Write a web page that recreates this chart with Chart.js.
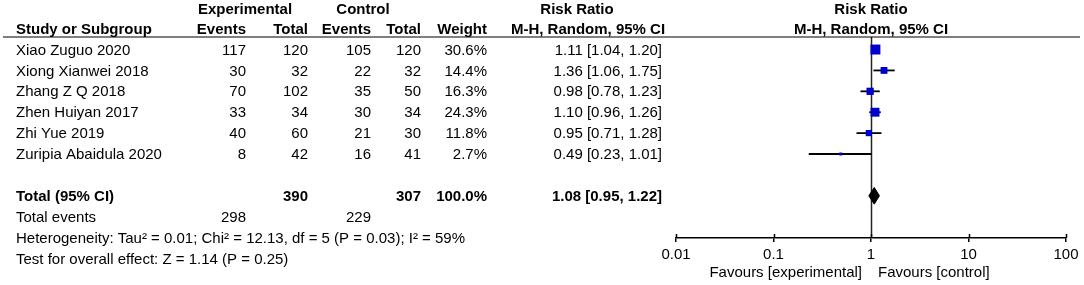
<!DOCTYPE html>
<html>
<head>
<meta charset="utf-8">
<script src="https://cdn.jsdelivr.net/npm/chart.js@4.4.1/dist/chart.umd.min.js"></script>
<style>
  html, body { margin: 0; padding: 0; background: #fff; }
  #wrap { width: 1084px; height: 285px; }
</style>
</head>
<body>
<div id="wrap"><canvas id="forestChart" width="1084" height="285"></canvas></div>
<script>
// study data
const studies = ['Xiao Zuguo 2020', 'Xiong Xianwei 2018', 'Zhang Z Q 2018', 'Zhen Huiyan 2017', 'Zhi Yue 2019', 'Zuripia Abaidula 2020']
const expEvents = [117, 30, 70, 33, 40, 8]
const expTotal = [120, 32, 102, 34, 60, 42]
const ctrlEvents = [105, 22, 35, 30, 21, 16]
const ctrlTotal = [120, 32, 50, 34, 30, 41]
const weights = [30.6, 14.4, 16.3, 24.3, 11.8, 2.7]
const riskRatio = [1.11, 1.36, 0.98, 1.10, 0.95, 0.49]
const ciLow = [1.04, 1.06, 0.78, 0.96, 0.71, 0.23]
const ciHigh = [1.20, 1.75, 1.23, 1.26, 1.28, 1.01]

// pooled result: [estimate, low, high]
const pooledRR = [1.08, 0.95, 1.22]
const pooledTotals = [390, 307]
const pooledEvents = [298, 229]
const pooledWeight = 100.0

const xTicks = [0.01, 0.1, 1, 10, 100]
const xTickLabels = ['0.01', '0.1', '1', '10', '100']

const heterogeneityText = 'Heterogeneity: Tau\u00b2 = 0.01; Chi\u00b2 = 12.13, df = 5 (P = 0.03); I\u00b2 = 59%'
const overallText = 'Test for overall effect: Z = 1.14 (P = 0.25)'

const FONT = '"Liberation Sans", Arial, sans-serif'
const totalRow = studies.length + 1

const fmtCI = (rr, lo, hi) => `${rr.toFixed(2)} [${lo.toFixed(2)}, ${hi.toFixed(2)}]`

const forestText = {
  id: 'forestText',
  beforeDatasetsDraw(chart) {
    const { ctx, chartArea, scales: { x } } = chart
    const x1 = Math.round(x.getPixelForValue(1)) + 0.5
    ctx.save()
    ctx.strokeStyle = '#222'
    ctx.lineWidth = 1.5
    ctx.beginPath()
    ctx.moveTo(x1, chartArea.top)
    ctx.lineTo(x1, chartArea.bottom)
    ctx.stroke()
    ctx.restore()
  },
  afterDraw(chart) {
    const { ctx, chartArea, scales: { x, y } } = chart
    const reg = '15px ' + FONT
    const bold = 'bold 15px ' + FONT
    const text = (s, px, py, align, font) => {
      ctx.font = font || reg
      ctx.textAlign = align
      ctx.fillText(s, px, py)
    }
    ctx.save()
    ctx.fillStyle = '#000'
    ctx.textBaseline = 'middle'

    // header
    ctx.strokeStyle = '#000'
    ctx.lineWidth = 1.2
    ctx.beginPath()
    ctx.moveTo(3, chartArea.top)
    ctx.lineTo(1080, chartArea.top)
    ctx.stroke()

    const h1 = 10
    const h2 = 30
    text('Experimental', 245, h1, 'center', bold)
    text('Control', 363, h1, 'center', bold)
    text('Risk Ratio', 577, h1, 'center', bold)
    text('Risk Ratio', x.getPixelForValue(1), h1, 'center', bold)
    text('Study or Subgroup', 16, h2, 'left', bold)
    text('Events', 246, h2, 'right', bold)
    text('Total', 308, h2, 'right', bold)
    text('Events', 371, h2, 'right', bold)
    text('Total', 421, h2, 'right', bold)
    text('Weight', 487, h2, 'right', bold)
    text('M-H, Random, 95% CI', 588, h2, 'center', bold)
    text('M-H, Random, 95% CI', x.getPixelForValue(1), h2, 'center', bold)

    // study rows
    studies.forEach((name, i) => {
      const py = y.getPixelForValue(i) + 1
      text(name, 16, py, 'left')
      text(String(expEvents[i]), 246, py, 'right')
      text(String(expTotal[i]), 308, py, 'right')
      text(String(ctrlEvents[i]), 371, py, 'right')
      text(String(ctrlTotal[i]), 421, py, 'right')
      text(weights[i].toFixed(1) + '%', 487, py, 'right')
      text(fmtCI(riskRatio[i], ciLow[i], ciHigh[i]), 662, py, 'right')
    })

    // pooled rows
    let py = y.getPixelForValue(totalRow) + 1
    text('Total (95% CI)', 16, py, 'left', bold)
    text(String(pooledTotals[0]), 308, py, 'right', bold)
    text(String(pooledTotals[1]), 421, py, 'right', bold)
    text(pooledWeight.toFixed(1) + '%', 487, py, 'right', bold)
    text(fmtCI(pooledRR[0], pooledRR[1], pooledRR[2]), 662, py, 'right', bold)

    py = y.getPixelForValue(totalRow + 1) + 1
    text('Total events', 16, py, 'left')
    text(String(pooledEvents[0]), 246, py, 'right')
    text(String(pooledEvents[1]), 371, py, 'right')
    text(heterogeneityText, 16, y.getPixelForValue(totalRow + 2) + 1, 'left')
    text(overallText, 16, y.getPixelForValue(totalRow + 3) + 1, 'left')

    // upward halves of the axis ticks
    ctx.strokeStyle = '#000'
    ctx.lineWidth = 1.5
    xTicks.forEach((v) => {
      const px = Math.round(x.getPixelForValue(v)) + 0.5
      ctx.beginPath()
      ctx.moveTo(px, chartArea.bottom - 4)
      ctx.lineTo(px, chartArea.bottom)
      ctx.stroke()
    })

    // favours labels
    const x1 = x.getPixelForValue(1)
    text('Favours [experimental]', x1 - 9, 273, 'right')
    text('Favours [control]', x1 + 7, 273, 'left')
    ctx.restore()
  },
}

const whiskers = studies.map((s, i) => ({
  data: [{ x: ciLow[i], y: i }, { x: ciHigh[i], y: i }],
  borderColor: '#000',
  borderWidth: 1.8,
  pointRadius: 0,
}))

const squares = {
  data: riskRatio.map((v, i) => ({ x: v, y: i })),
  showLine: false,
  pointStyle: 'rect',
  pointRadius: weights.map((w) => (1.8 * Math.sqrt(w)) / Math.SQRT2),
  backgroundColor: '#0000cc',
  borderColor: '#0000cc',
  borderWidth: 0,
}

const diamond = {
  data: [
    { x: pooledRR[1], y: totalRow },
    { x: pooledRR[0], y: totalRow - 0.4 },
    { x: pooledRR[2], y: totalRow },
    { x: pooledRR[0], y: totalRow + 0.4 },
    { x: pooledRR[1], y: totalRow },
  ],
  fill: 'shape',
  backgroundColor: '#000',
  borderColor: '#000',
  borderWidth: 1,
  pointRadius: 0,
}

const canvas = document.getElementById('forestChart')
new Chart(canvas, {
  type: 'line',
  data: {
    datasets: [squares, diamond, ...whiskers],
  },
  options: {
    responsive: false,
    animation: false,
    devicePixelRatio: 1,
    layout: {
      padding: { left: 676, right: 18, top: 37, bottom: 0 },
    },
    plugins: {
      legend: { display: false },
      tooltip: { enabled: false },
    },
    scales: {
      x: {
        type: 'logarithmic',
        min: 0.01,
        max: 100,
        afterBuildTicks: (scale) => {
          scale.ticks = xTicks.map((v) => ({ value: v }))
        },
        afterFit: (scale) => {
          scale.height = 47
          scale.paddingLeft = 0
          scale.paddingRight = 0
        },
        ticks: {
          autoSkip: false,
          maxRotation: 0,
          padding: 4,
          color: '#000',
          font: { family: FONT, size: 15 },
          callback: (v, i) => xTickLabels[i],
        },
        grid: {
          drawOnChartArea: false,
          drawTicks: true,
          tickLength: 4,
          color: '#000',
          lineWidth: 1.5,
        },
        border: { display: true, color: '#000', width: 1.5 },
      },
      y: {
        type: 'linear',
        display: false,
        reverse: true,
        min: -0.6,
        max: 9.02,
      },
    },
  },
  plugins: [forestText],
})
</script>
</body>
</html>
